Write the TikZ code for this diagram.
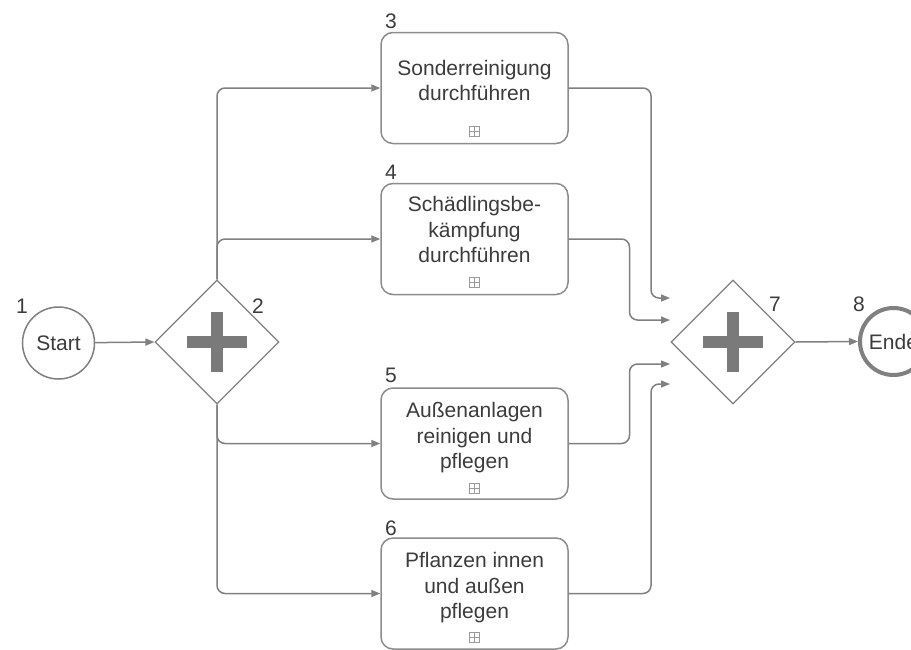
\documentclass[tikz,border=0pt]{standalone}
\usepackage{fontspec}
\setmainfont{Liberation Sans}
\usetikzlibrary{arrows.meta,shapes.geometric}
\definecolor{linegray}{HTML}{808080}
\definecolor{boxgray}{HTML}{8C8C8C}
\definecolor{txtgray}{HTML}{3C3C3C}
\definecolor{plusgray}{HTML}{7A7A7A}
\definecolor{icongray}{HTML}{9A9A9A}
\begin{document}
\begin{tikzpicture}[x=1pt,y=-1pt,
  every node/.style={font=\fontsize{21}{25.5}\selectfont, text=txtgray},
  taskbox/.style={draw=boxgray, line width=1.5pt, rounded corners=12pt,
    minimum width=187pt, minimum height=111pt, inner sep=0pt},
  tasktext/.style={anchor=base, inner sep=0pt},
  gatebox/.style={diamond, draw=linegray, line width=1.2pt,
    minimum width=124pt, minimum height=124pt, inner sep=0pt},
  startev/.style={circle, draw=linegray, line width=1.5pt, minimum size=72pt, inner sep=0pt},
  endev/.style={circle, draw=linegray, line width=4pt, minimum size=67pt, inner sep=0pt},
  numlabel/.style={inner sep=0pt},
  subicon/.style={draw=icongray, line width=0.8pt, minimum size=10pt, inner sep=0pt,
    path picture={\draw[icongray, line width=0.8pt]
      (path picture bounding box.north) -- (path picture bounding box.south)
      (path picture bounding box.west) -- (path picture bounding box.east);}},
  plusbar/.style={plusgray, line width=12pt},
  flow/.style={draw=linegray, line width=1.5pt, rounded corners=8pt,
    -{Triangle[length=9pt,width=7pt]}},
  link/.style={draw=linegray, line width=1.5pt, rounded corners=8pt}
]
\useasboundingbox (0,0) rectangle (911,649);
\fill[white] (0,0) rectangle (911,649);

% events
\node[startev] (start) at (58.5,343) {Start};
\node[endev] (ende) at (893.5,341.5) {Ende};

% gateways
\node[gatebox] (g2) at (217,342) {};
\node[gatebox] (g7) at (733,342) {};
\draw[plusbar] (187,342) -- (247,342) (217,312) -- (217,372);
\draw[plusbar] (703,342) -- (763,342) (733,312) -- (733,372);

% tasks
\node[taskbox] (t3) at (474.5,88) {};
\node[taskbox] (t4) at (474.5,239) {};
\node[taskbox] (t5) at (474.5,443.5) {};
\node[taskbox] (t6) at (474.5,593.5) {};

\node[tasktext] (t3txt) at (474.5,75.25) {\begin{tabular}[t]{@{}c@{}}Sonderreinigung\\durchführen\end{tabular}};
\node[tasktext] (t4txt) at (474.5,211.5) {\begin{tabular}[t]{@{}c@{}}Schädlingsbe-\\kämpfung\\durchführen\end{tabular}};
\node[tasktext] (t5txt) at (474.5,417.5) {\begin{tabular}[t]{@{}c@{}}Außenanlagen\\reinigen und\\pflegen\end{tabular}};
\node[tasktext] (t6txt) at (474.5,567.5) {\begin{tabular}[t]{@{}c@{}}Pflanzen innen\\und außen\\pflegen\end{tabular}};

\node[subicon] (t3ico) at (474.5,131) {};
\node[subicon] (t4ico) at (474.5,282) {};
\node[subicon] (t5ico) at (474.5,488) {};
\node[subicon] (t6ico) at (474.5,637) {};

% number labels
\node[numlabel] (l1) at (22,306) {1};
\node[numlabel] (l2) at (258,306) {2};
\node[numlabel] (l3) at (391,21) {3};
\node[numlabel] (l4) at (391,172) {4};
\node[numlabel] (l5) at (391,375) {5};
\node[numlabel] (l6) at (391,528) {6};
\node[numlabel] (l7) at (775,304) {7};
\node[numlabel] (l8) at (859,304) {8};

% connectors
\draw[flow] (start) -- (g2.west);
\draw[flow] (g2.north) |- (t3.west);
\draw[flow] (g2.north) |- (t4.west);
\draw[flow] (g2.south) |- (t5.west);
\draw[flow] (g2.south) |- (t6.west);

\coordinate (j3) at (651,298);  \coordinate (e3) at (670,298);
\coordinate (j4) at (629.5,320); \coordinate (e4) at (670,320);
\coordinate (j5) at (629.5,364); \coordinate (e5) at (670,364);
\coordinate (j6) at (651,384);  \coordinate (e6) at (670,384);

\draw[flow] (t3.east) -| (j3) -- (e3);
\draw[flow] (t4.east) -| (j4) -- (e4);
\draw[flow] (t5.east) -| (j5) -- (e5);
\draw[flow] (t6.east) -| (j6) -- (e6);

\draw[flow] (g7.east) -- (ende.west);
\end{tikzpicture}
\end{document}
